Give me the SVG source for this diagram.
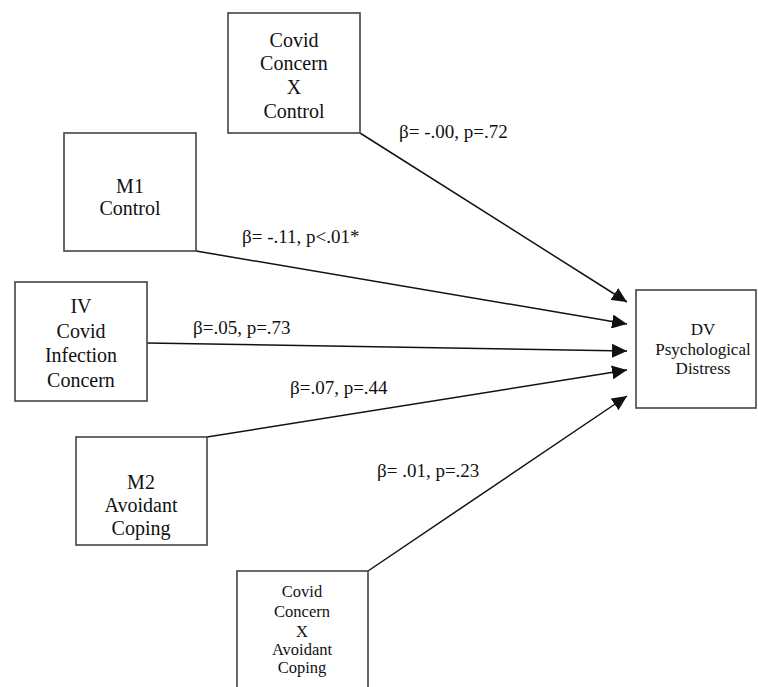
<svg xmlns="http://www.w3.org/2000/svg" width="758" height="687" viewBox="0 0 758 687">
<style>
  .box { fill: #fff; stroke: #444; stroke-width: 1.6; }
  .t { font-family: "Liberation Serif", "Times New Roman", serif; fill: #111; text-anchor: middle; font-size: 20px; }
  .sm { font-size: 16.5px; }
  .dv { font-size: 17px; }
  .lbl { font-family: "Liberation Serif", "Times New Roman", serif; fill: #111; font-size: 19px; }
  .edge { stroke: #111; stroke-width: 1.5; fill: none; marker-end: url(#arr); }
</style>
<defs>
  <marker id="arr" markerUnits="userSpaceOnUse" markerWidth="16" markerHeight="14" refX="15" refY="7" orient="auto">
    <path d="M0,0 L15,7 L0,14 Z" fill="#111"/>
  </marker>
</defs>
<rect width="758" height="687" fill="#fff"/>
<g id="connectors">
  <line class="edge" x1="360" y1="133" x2="627" y2="302"/>
  <line class="edge" x1="196" y1="251" x2="627" y2="324"/>
  <line class="edge" x1="147" y1="343" x2="627" y2="351"/>
  <line class="edge" x1="207" y1="437" x2="627" y2="370"/>
  <line class="edge" x1="368" y1="571" x2="627" y2="396"/>
  <text class="lbl" x="399" y="138">β= -.00, p=.72</text>
  <text class="lbl" x="242" y="243">β= -.11, p&lt;.01*</text>
  <text class="lbl" x="193" y="334">β=.05, p=.73</text>
  <text class="lbl" x="290" y="394">β=.07, p=.44</text>
  <text class="lbl" x="377" y="477">β= .01, p=.23</text>
</g>
<g id="node-interaction-control">
  <rect class="box" x="228" y="13" width="132" height="120"/>
  <text class="t" x="294" y="47">Covid</text>
  <text class="t" x="294" y="70">Concern</text>
  <text class="t" x="294" y="94">X</text>
  <text class="t" x="294" y="118">Control</text>
</g>
<g id="node-m1">
  <rect class="box" x="64" y="133" width="132" height="118"/>
  <text class="t" x="130" y="193">M1</text>
  <text class="t" x="130" y="215">Control</text>
</g>
<g id="node-iv">
  <rect class="box" x="15" y="282" width="132" height="119"/>
  <text class="t" x="81" y="313">IV</text>
  <text class="t" x="81" y="338">Covid</text>
  <text class="t" x="81" y="362">Infection</text>
  <text class="t" x="81" y="387">Concern</text>
</g>
<g id="node-m2">
  <rect class="box" x="76" y="437" width="131" height="108"/>
  <text class="t" x="141" y="489">M2</text>
  <text class="t" x="141" y="512">Avoidant</text>
  <text class="t" x="141" y="535">Coping</text>
</g>
<g id="node-interaction-coping">
  <rect class="box" x="237" y="571" width="131" height="130"/>
  <text class="t sm" x="302" y="597">Covid</text>
  <text class="t sm" x="302" y="617">Concern</text>
  <text class="t sm" x="302" y="637">X</text>
  <text class="t sm" x="302" y="655">Avoidant</text>
  <text class="t sm" x="302" y="673">Coping</text>
</g>
<g id="node-dv">
  <rect class="box" x="636" y="290" width="120" height="118"/>
  <text class="t dv" x="703" y="335">DV</text>
  <text class="t dv" x="703" y="355">Psychological</text>
  <text class="t dv" x="703" y="374">Distress</text>
</g>
</svg>
